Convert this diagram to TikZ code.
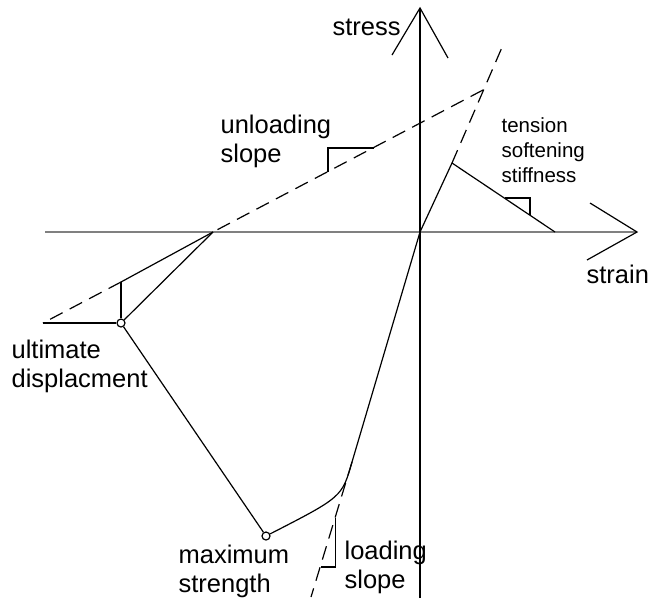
\documentclass[tikz,border=0pt]{standalone}
\usepackage{fontspec}
\setmainfont{Liberation Sans}
\begin{document}
\begin{tikzpicture}[x=0.5pt, y=-0.5pt, line width=0.6pt,
		label text/.style={anchor=base west, inner sep=0pt, align=left, font=\fontsize{12.75}{14.5}\selectfont},
		small text/.style={anchor=base west, inner sep=0pt, align=left, font=\fontsize{10.25}{12.5}\selectfont},
		mark point/.style={circle, draw, inner sep=0pt, minimum size=4pt},
		dash line/.style={dash pattern=on 7pt off 4pt}]
		\useasboundingbox (0,0) rectangle (652,602);
		
		% axes
		\coordinate (O) at (420,232);
		\coordinate (ytop) at (420,8);
		\coordinate (ybot) at (420,598);
		\coordinate (yl) at (392,55);
		\coordinate (yr) at (448,58);
		\coordinate (xtip) at (637,232);
		\coordinate (xleft) at (45,232);
		\coordinate (xu) at (590,203);
		\coordinate (xd) at (587,260);
		\draw[black!50] (xleft) -- (xtip);
		\draw (ybot) -- (ytop);
		\draw (yl) -- (ytop) -- (yr);
		\draw (xu) -- (xtip) -- (xd);
		\node[label text] (stress) at (332,35) {stress};
		\node[label text] (strain) at (586,283) {strain};
		
		% points of the curve
		\coordinate (P) at (483,90);
		\coordinate (Ptop) at (503,45);
		\coordinate (T) at (452,163);
		\coordinate (Tend) at (555,232);
		\coordinate (R) at (213,232);
		\coordinate (Ua) at (121,282);
		\coordinate (Uleft) at (43,323);
		\coordinate (C) at (352,462);
		\coordinate (L) at (311,597);
		\node[mark point] (U) at (121,323) {};
		\node[mark point] (M) at (266,536) {};
		
		% loading
		\draw (O) -- (T);
		\draw[dash line] (T) -- (Ptop);
		\draw (O) -- (C);
		\draw (C) .. controls (342,497) .. (M);
		\draw[dash line] (C) -- (L);
		\draw (T) -- (Tend);
		
		% unloading
		\draw[dash line] (P) -- (R);
		\draw (R) -- (Ua);
		\draw[dash line] (Ua) -- (Uleft);
		\draw (Ua) -- (U);
		\draw (Uleft) -- (U);
		\draw (U) -- (R);
		\draw (U) -- (M);
		
		% slope marks
		\draw (328,172) -- (328,148) -- (373.5,148);
		\draw (505,198) -- (530,198) -- (530,215);
		\draw (335.5,518) -- (335.5,567) -- (321,567);
		
		% labels (base = last line)
		\node[label text] (unload) at (220,162) {unloading\\slope};
		\node[small text] (tension) at (501,182) {tension\\softening\\stiffness};
		\node[label text] (ultimate) at (11,387) {ultimate\\displacment};
		\node[label text] (maximum) at (178,592) {maximum\\strength};
		\node[label text] (loading) at (344,588) {loading\\slope};
	\end{tikzpicture}
\end{document}
